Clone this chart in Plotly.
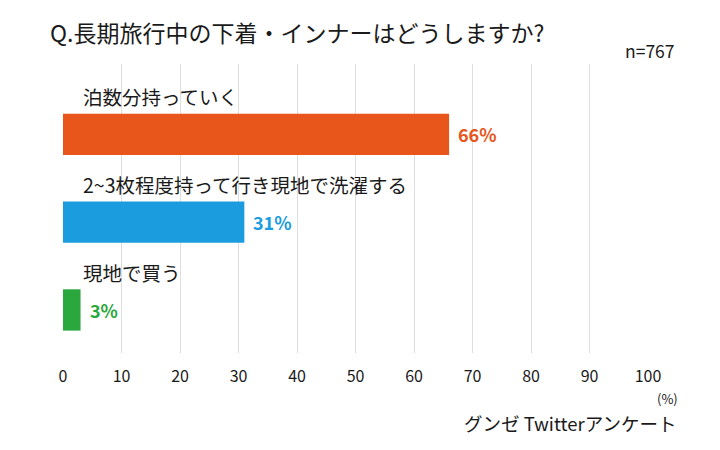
import plotly.graph_objects as go

categories = ["泊数分持っていく", "2~3枚程度持って行き現地で洗濯する", "現地で買う"]
values = [66, 31, 3]
value_labels = ["66%", "31%", "3%"]
colors = ["#E8561B", "#1B9CDE", "#2BA83D"]
tick_vals = [0, 10, 20, 30, 40, 50, 60, 70, 80, 90, 100]

FONT = "Noto Sans CJK JP"
W, H = 720, 450
ML, MR, MT, MB = 63, 72, 64, 97
ypos = list(range(len(categories)))

fig = go.Figure()
fig.add_trace(go.Bar(
    x=values, y=ypos, orientation="h",
    marker=dict(color=colors, line=dict(width=0)),
    width=0.47,
    hoverinfo="skip",
))

for i, (c, v, lab, col) in enumerate(zip(categories, values, value_labels, colors)):
    fig.add_annotation(x=0, y=i - 0.43, xref="x", yref="y", text=c,
                       showarrow=False, xanchor="left", yanchor="middle",
                       xshift=18,
                       font=dict(family=FONT, size=19.5, color="#1a1a1a"))
    fig.add_annotation(x=v, y=i, xref="x", yref="y", text=f"<b>{lab}</b>",
                       showarrow=False, xanchor="left", yanchor="middle",
                       xshift=7,
                       font=dict(family=FONT, size=18, color=col))


def px(xp, yp):
    return (xp - ML) / (W - ML - MR), 1 - (yp - MT) / (H - MT - MB)


x0, y0 = px(48, 32)
fig.add_annotation(x=x0, y=y0, xref="paper", yref="paper",
                   text="Q.長期旅行中の下着・インナーはどうしますか?",
                   showarrow=False, xanchor="left", yanchor="middle",
                   font=dict(family=FONT, size=23, color="#1a1a1a"))
x1, y1 = px(677, 51)
fig.add_annotation(x=x1, y=y1, xref="paper", yref="paper", text="n=767",
                   showarrow=False, xanchor="right", yanchor="middle",
                   font=dict(family=FONT, size=17.5, color="#1a1a1a"))
x2, y2 = px(680, 398)
fig.add_annotation(x=x2, y=y2, xref="paper", yref="paper", text="(%)",
                   showarrow=False, xanchor="right", yanchor="middle",
                   font=dict(family=FONT, size=13, color="#1a1a1a"))
x3, y3 = px(678, 423)
fig.add_annotation(x=x3, y=y3, xref="paper", yref="paper", text="グンゼ Twitterアンケート",
                   showarrow=False, xanchor="right", yanchor="middle",
                   font=dict(family=FONT, size=18.5, color="#1a1a1a"))

fig.update_layout(
    width=W, height=H,
    margin=dict(l=ML, r=MR, t=MT, b=MB),
    paper_bgcolor="white", plot_bgcolor="white",
    showlegend=False,
    font=dict(family=FONT, color="#1a1a1a"),
    xaxis=dict(range=[0, 100], tickvals=tick_vals, showgrid=True,
               gridcolor="#DEDEDE", gridwidth=1, zeroline=False,
               showline=False, ticks="outside", ticklen=9, tickcolor="rgba(0,0,0,0)",
               tickfont=dict(family=FONT, size=16, color="#1a1a1a"),
               fixedrange=True),
    yaxis=dict(range=[2.49, -0.8], showticklabels=False, showgrid=False,
               zeroline=False, showline=False, fixedrange=True),
)

fig.write_html("out.html", config={"displayModeBar": False},
               post_script="document.body.style.margin='0';")
